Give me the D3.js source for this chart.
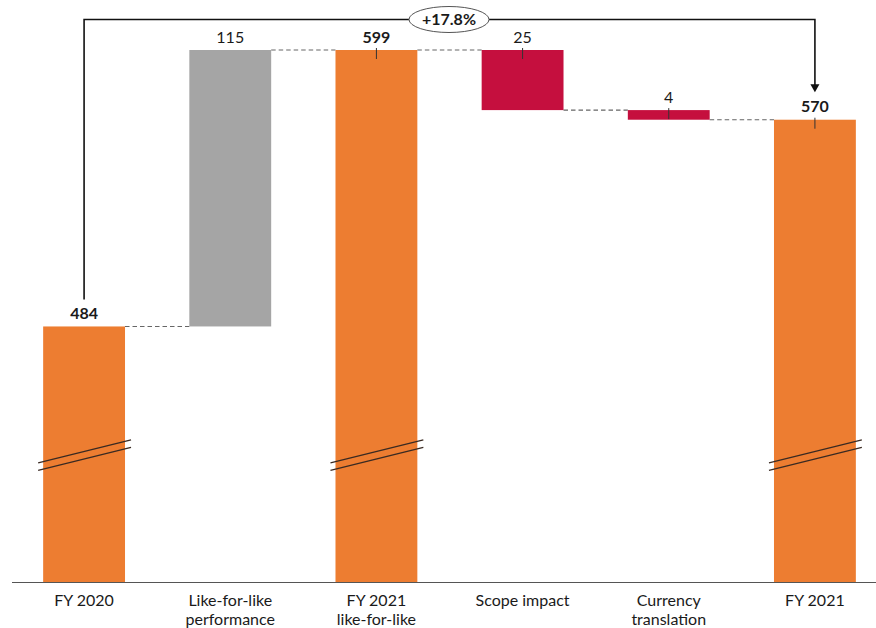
<!DOCTYPE html>
<html>
<head>
<meta charset="utf-8">
<script src="https://cdn.jsdelivr.net/npm/d3@7"></script>
<style>
  html, body { margin: 0; padding: 0; background: #fff; }
  svg { display: block; }
  text { font-family: Lato, "Open Sans", sans-serif; fill: #1a1a1a; }
</style>
</head>
<body>
<svg id="chart" width="876" height="628"></svg>
<script>
// Bridge from FY 2020 to FY 2021
const categories = ["FY 2020", "Like-for-like\nperformance", "FY 2021\nlike-for-like", "Scope impact", "Currency\ntranslation", "FY 2021"];
const values = [484, 115, 599, -25, -4, 570];
const kinds = ["total", "delta", "total", "delta", "delta", "total"];
const valueLabels = ["484", "115", "599", "25", "4", "570"];
const showTick = [false, false, true, true, true, true];
const broken = [true, false, true, false, false, true];
const growthLabel = "+17.8%";
const axisFloor = 377.7;   // value at the baseline (axis is broken)
const breakValue = 432;    // where the break marks sit

const W = 876, H = 628;
const baseY = 582;
const svg = d3.select("#chart");

const x = d3.scaleBand()
  .domain(d3.range(categories.length))
  .range([11, 888])
  .paddingInner(0.44)
  .paddingOuter(0.22);

const y = d3.scaleLinear()
  .domain([axisFloor, 599])
  .range([baseY, 50]);

// build waterfall segments
let running = 0;
const bars = values.map((v, i) => {
  let lo, hi, color;
  if (kinds[i] === "total") {
    lo = axisFloor; hi = v; running = v; color = "#ED7D31";
  } else {
    const start = running;
    running = start + v;
    lo = Math.min(start, running); hi = Math.max(start, running);
    color = v >= 0 ? "#A5A5A5" : "#C50F3E";
  }
  return { i, lo, hi, color, end: running, label: valueLabels[i], kind: kinds[i] };
});

// connectors
const conn = svg.append("g");
for (let i = 0; i < bars.length - 1; i++) {
  const lvl = bars[i].end;
  conn.append("line")
    .attr("x1", x(i) + x.bandwidth())
    .attr("x2", x(i + 1))
    .attr("y1", y(lvl)).attr("y2", y(lvl))
    .attr("stroke", "#666").attr("stroke-width", 1.1)
    .attr("stroke-dasharray", "4.5,3");
}

// bars
svg.append("g").selectAll("rect")
  .data(bars)
  .join("rect")
  .attr("x", d => x(d.i))
  .attr("width", x.bandwidth())
  .attr("y", d => y(d.hi))
  .attr("height", d => y(d.lo) - y(d.hi))
  .attr("fill", d => d.color);

// small ticks at the top of bars
svg.append("g").selectAll("line")
  .data(bars.filter(d => showTick[d.i]))
  .join("line")
  .attr("x1", d => x(d.i) + x.bandwidth() / 2)
  .attr("x2", d => x(d.i) + x.bandwidth() / 2)
  .attr("y1", d => y(d.hi) - 2)
  .attr("y2", d => y(d.hi) + 9)
  .attr("stroke", "#333").attr("stroke-width", 1);

// value labels
svg.append("g").selectAll("text")
  .data(bars)
  .join("text")
  .attr("x", d => x(d.i) + x.bandwidth() / 2)
  .attr("y", d => y(d.hi) - 13)
  .attr("dy", "0.35em")
  .attr("text-anchor", "middle")
  .attr("font-size", 16)
  .attr("font-weight", d => d.kind === "total" ? 700 : 400)
  .text(d => d.label);

// axis break marks
const by = y(breakValue);
const brk = svg.append("g");
bars.filter(d => broken[d.i]).forEach(d => {
  const x0 = x(d.i) - 5, x1 = x(d.i) + x.bandwidth() + 6;
  [0, 7.5].forEach(off => {
    brk.append("line")
      .attr("x1", x0).attr("y1", by + 11.5 + off)
      .attr("x2", x1).attr("y2", by - 11.5 + off)
      .attr("stroke", "#3a2a22").attr("stroke-width", 1.3);
  });
});

// baseline
svg.append("line")
  .attr("x1", 12).attr("x2", W)
  .attr("y1", baseY + 0.5).attr("y2", baseY + 0.5)
  .attr("stroke", "#555").attr("stroke-width", 1);

// category labels
const cat = svg.append("g");
categories.forEach((c, i) => {
  const t = cat.append("text")
    .attr("x", x(i) + x.bandwidth() / 2)
    .attr("y", 600)
    .attr("text-anchor", "middle")
    .attr("font-size", 16);
  c.split("\n").forEach((line, k) => {
    t.append("tspan")
      .attr("x", x(i) + x.bandwidth() / 2)
      .attr("dy", k === 0 ? "0.35em" : 19.5)
      .text(line);
  });
});

// growth bracket from FY 2020 to FY 2021
const first = bars[0], last = bars[bars.length - 1];
const xa = x(first.i) + x.bandwidth() / 2;
const xb = x(last.i) + x.bandwidth() / 2;
const topY = 19.5;
svg.append("path")
  .attr("d", `M${xa},${y(first.hi) - 27} V${topY} H${xb} V${y(last.hi) - 30}`)
  .attr("fill", "none").attr("stroke", "#111").attr("stroke-width", 1.6);
const tipY = y(last.hi) - 27.5;
svg.append("path")
  .attr("d", `M${xb - 4.5},${tipY - 8} L${xb + 4.5},${tipY - 8} L${xb},${tipY} Z`)
  .attr("fill", "#111");

const ex = 449;
svg.append("ellipse")
  .attr("cx", ex).attr("cy", topY)
  .attr("rx", 40).attr("ry", 13)
  .attr("fill", "#fff").attr("stroke", "#555").attr("stroke-width", 1);
svg.append("text")
  .attr("x", ex).attr("y", topY)
  .attr("dy", "0.35em")
  .attr("text-anchor", "middle")
  .attr("font-size", 16)
  .attr("font-weight", 700)
  .text(growthLabel);
</script>
</body>
</html>
